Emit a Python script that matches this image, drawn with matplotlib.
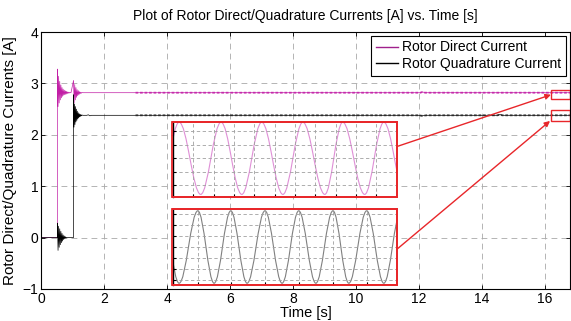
import numpy as np
import matplotlib
matplotlib.use("Agg")
import matplotlib.pyplot as plt
from matplotlib.path import Path
from matplotlib.patches import PathPatch, Rectangle

plt.rcParams['font.family'] = ['Liberation Sans', 'DejaVu Sans']
plt.rcParams['font.size'] = 10

# rotor direct current [A] vs time [s]
direct_t = [0.0, 0.52,
            0.52, 0.538, 0.556, 0.574, 0.592, 0.61, 0.628, 0.646, 0.664, 0.682,
            0.70, 0.718, 0.736, 0.754, 0.772, 0.79, 0.808, 0.826, 0.844, 0.862,
            0.88, 0.898, 0.916, 0.934, 0.95,
            1.03, 1.049, 1.068, 1.087, 1.106, 1.125, 1.144, 1.163, 1.182, 1.201,
            1.22, 1.239, 1.258, 1.277, 1.296, 1.33,
            3.0, 12.05, 12.12, 12.2, 16.8]
direct_i = [0.0, 0.0,
            3.28, 2.55, 3.14, 2.62, 3.04, 2.68, 2.97, 2.72, 2.92, 2.75,
            2.89, 2.77, 2.87, 2.78, 2.855, 2.79, 2.845, 2.80, 2.835, 2.81,
            2.83, 2.815, 2.825, 2.82, 2.82,
            3.06, 2.62, 2.98, 2.68, 2.92, 2.73, 2.88, 2.76, 2.86, 2.78,
            2.84, 2.80, 2.83, 2.81, 2.825, 2.82,
            2.82, 2.82, 2.835, 2.82, 2.82]

# rotor quadrature current [A] vs time [s]
quad_t = [0.0, 0.52,
          0.52, 0.538, 0.556, 0.574, 0.592, 0.61, 0.628, 0.646, 0.664, 0.682,
          0.70, 0.718, 0.736, 0.754, 0.772, 0.79, 0.808, 0.826, 0.85,
          1.03,
          1.03, 1.045, 1.06, 1.075, 1.09, 1.105, 1.12, 1.135, 1.15, 1.165,
          1.18, 1.195, 1.21, 1.225, 1.24, 1.255, 1.27, 1.285, 1.30, 1.33,
          1.45, 1.5, 1.55, 1.6,
          3.0, 12.0, 12.1, 12.25, 14.5, 14.58, 14.65, 16.8]
quad_i = [0.0, 0.0,
          0.28, -0.25, 0.22, -0.19, 0.17, -0.14, 0.12, -0.10, 0.08, -0.07,
          0.05, -0.04, 0.03, -0.02, 0.015, -0.01, 0.005, 0.0, 0.0,
          0.0,
          2.78, 2.15, 2.60, 2.20, 2.55, 2.25, 2.50, 2.28, 2.46, 2.31,
          2.43, 2.33, 2.41, 2.35, 2.40, 2.36, 2.39, 2.37, 2.385, 2.38,
          2.38, 2.39, 2.37, 2.38,
          2.38, 2.38, 2.37, 2.38, 2.38, 2.395, 2.38, 2.38]

ripple_start = 3.0

# zoomed steady-state ripple: extrema times and values
dz_t = [16.167, 16.215, 16.268, 16.318, 16.369, 16.418, 16.470, 16.519,
        16.573, 16.617, 16.671, 16.718, 16.770]
dz_i = [2.800, 2.840, 2.800, 2.840, 2.800, 2.840, 2.800, 2.840,
        2.800, 2.840, 2.800, 2.840, 2.800]
qz_t = [16.173, 16.215, 16.261, 16.301, 16.342, 16.382, 16.426, 16.468,
        16.509, 16.551, 16.593, 16.632, 16.676, 16.718, 16.760]
qz_i = [2.400, 2.360, 2.400, 2.360, 2.400, 2.360, 2.400, 2.360,
        2.400, 2.360, 2.400, 2.360, 2.400, 2.360, 2.400]

# zoom windows shown on the main plot (t0, t1, i0, i1)
direct_box = [16.2, 16.8, 2.69, 2.87]
quad_box = [16.2, 16.8, 2.27, 2.49]

x_ticks = [0, 2, 4, 6, 8, 10, 12, 14, 16]
y_ticks = [-1, 0, 1, 2, 3, 4]

c_direct = '#c21fa6'
c_quad = '#000000'
red = '#e8262a'

fig = plt.figure(figsize=(5.71, 3.21), dpi=100)
ax = fig.add_axes([0.072, 0.1, 0.926, 0.8])

ld, = ax.plot(direct_t, direct_i, color=c_direct, lw=0.5, label='Rotor Direct Current')
lq, = ax.plot(quad_t, quad_i, color=c_quad, lw=0.5, label='Rotor Quadrature Current')

dt = np.array(direct_t); di = np.array(direct_i)
qt = np.array(quad_t); qi = np.array(quad_i)
ax.plot(dt[dt >= ripple_start], di[dt >= ripple_start], color=c_direct, lw=1.3,
        ls=(0, (1.5, 1)), alpha=0.85)
ax.plot(qt[qt >= ripple_start], qi[qt >= ripple_start], color='#222222', lw=1.3,
        ls=(0, (1.5, 1)), alpha=0.85)

ax.set_xlim(0, 16.8)
ax.set_ylim(-1, 4)
ax.set_xticks(x_ticks)
ax.set_yticks(y_ticks)
ax.grid(True, color='#a8a8a8', lw=0.6, ls=(0, (7, 5)))
ax.tick_params(direction='in', top=True, right=True, length=3, width=0.6, pad=2,
               labelsize=10)
for s in ax.spines.values():
    s.set_linewidth(0.8)
ax.set_title('Plot of Rotor Direct/Quadrature Currents [A] vs. Time [s]', fontsize=10, pad=9)
ax.set_xlabel('Time [s]', labelpad=0, fontsize=10.5)
ax.set_ylabel('Rotor Direct/Quadrature Currents [A]', labelpad=4, fontsize=11)

for b in (direct_box, quad_box):
    ax.add_patch(Rectangle((b[0], b[2]), b[1] - b[0], b[3] - b[2], fill=False,
                           ec=red, lw=1.0, zorder=4))

leg = ax.legend(handles=[ld, lq], loc='upper right', bbox_to_anchor=(1.0, 1.0),
                fancybox=False, framealpha=1, edgecolor='black', borderaxespad=0.25,
                handlelength=1.6, handletextpad=0.3, borderpad=0.35, labelspacing=0.2,
                fontsize=10)
leg.get_frame().set_linewidth(0.8)
for h in leg.legend_handles:
    h.set_linewidth(1.0)
leg.legend_handles[0].set_color('#a0208c')


def wave_path(tx, vy, k=0.3642):
    verts = [(tx[0], vy[0])]
    codes = [Path.MOVETO]
    for j in range(1, len(tx)):
        d = tx[j] - tx[j - 1]
        verts += [(tx[j - 1] + k * d, vy[j - 1]), (tx[j] - k * d, vy[j]), (tx[j], vy[j])]
        codes += [Path.CURVE4] * 3
    return Path(verts, codes)


def make_inset(rect, tx, vy, color, xlim, ylim, xticks, yticks):
    a = fig.add_axes(rect)
    a.add_patch(PathPatch(wave_path(tx, vy), fill=False, ec=color, lw=0.8))
    a.set_xlim(*xlim)
    a.set_ylim(*ylim)
    a.set_xticks(xticks)
    a.set_yticks(yticks)
    a.set_xticklabels([])
    a.set_yticklabels([])
    a.grid(True, color='#a0a0a0', lw=0.6, ls=(0, (4, 3)))
    a.tick_params(direction='in', length=2, width=0.8, colors='black')
    for name, s in a.spines.items():
        s.set_color(red)
        s.set_linewidth(1.3)
    a.spines['left'].set_color('black')
    a.spines['left'].set_linewidth(1.0)
    a.add_patch(Rectangle((-0.006, 0), 1.006, 1, transform=a.transAxes, fill=False,
                          ec=red, lw=1.3, clip_on=False, zorder=5))
    return a


ins_d = make_inset([0.303, 0.386, 0.392, 0.235], dz_t, dz_i, '#df8fd6',
                   (16.2, 16.75), (2.7985, 2.8403),
                   [16.25, 16.30, 16.35, 16.40, 16.45, 16.50, 16.55, 16.60, 16.65, 16.70],
                   [2.805, 2.8125, 2.82, 2.8275, 2.835])
ins_q = make_inset([0.303, 0.112, 0.392, 0.237], qz_t, qz_i, '#808080',
                   (16.2, 16.75), (2.359, 2.401),
                   [16.261, 16.342, 16.426, 16.509, 16.593, 16.676],
                   [2.362, 2.368, 2.374, 2.380, 2.386, 2.392, 2.398])

ax.annotate('', xy=(direct_box[0], 2.78), xycoords='data',
            xytext=(1.0, 0.67), textcoords=ins_d.transAxes,
            arrowprops=dict(arrowstyle='-|>', color=red, lw=1.0, mutation_scale=8,
                            shrinkA=0, shrinkB=0), annotation_clip=False)
ax.annotate('', xy=(direct_box[0] - 0.03, quad_box[2]), xycoords='data',
            xytext=(1.0, 0.47), textcoords=ins_q.transAxes,
            arrowprops=dict(arrowstyle='-|>', color=red, lw=1.0, mutation_scale=8,
                            shrinkA=0, shrinkB=0), annotation_clip=False)

fig.savefig('out.png', dpi=100)
